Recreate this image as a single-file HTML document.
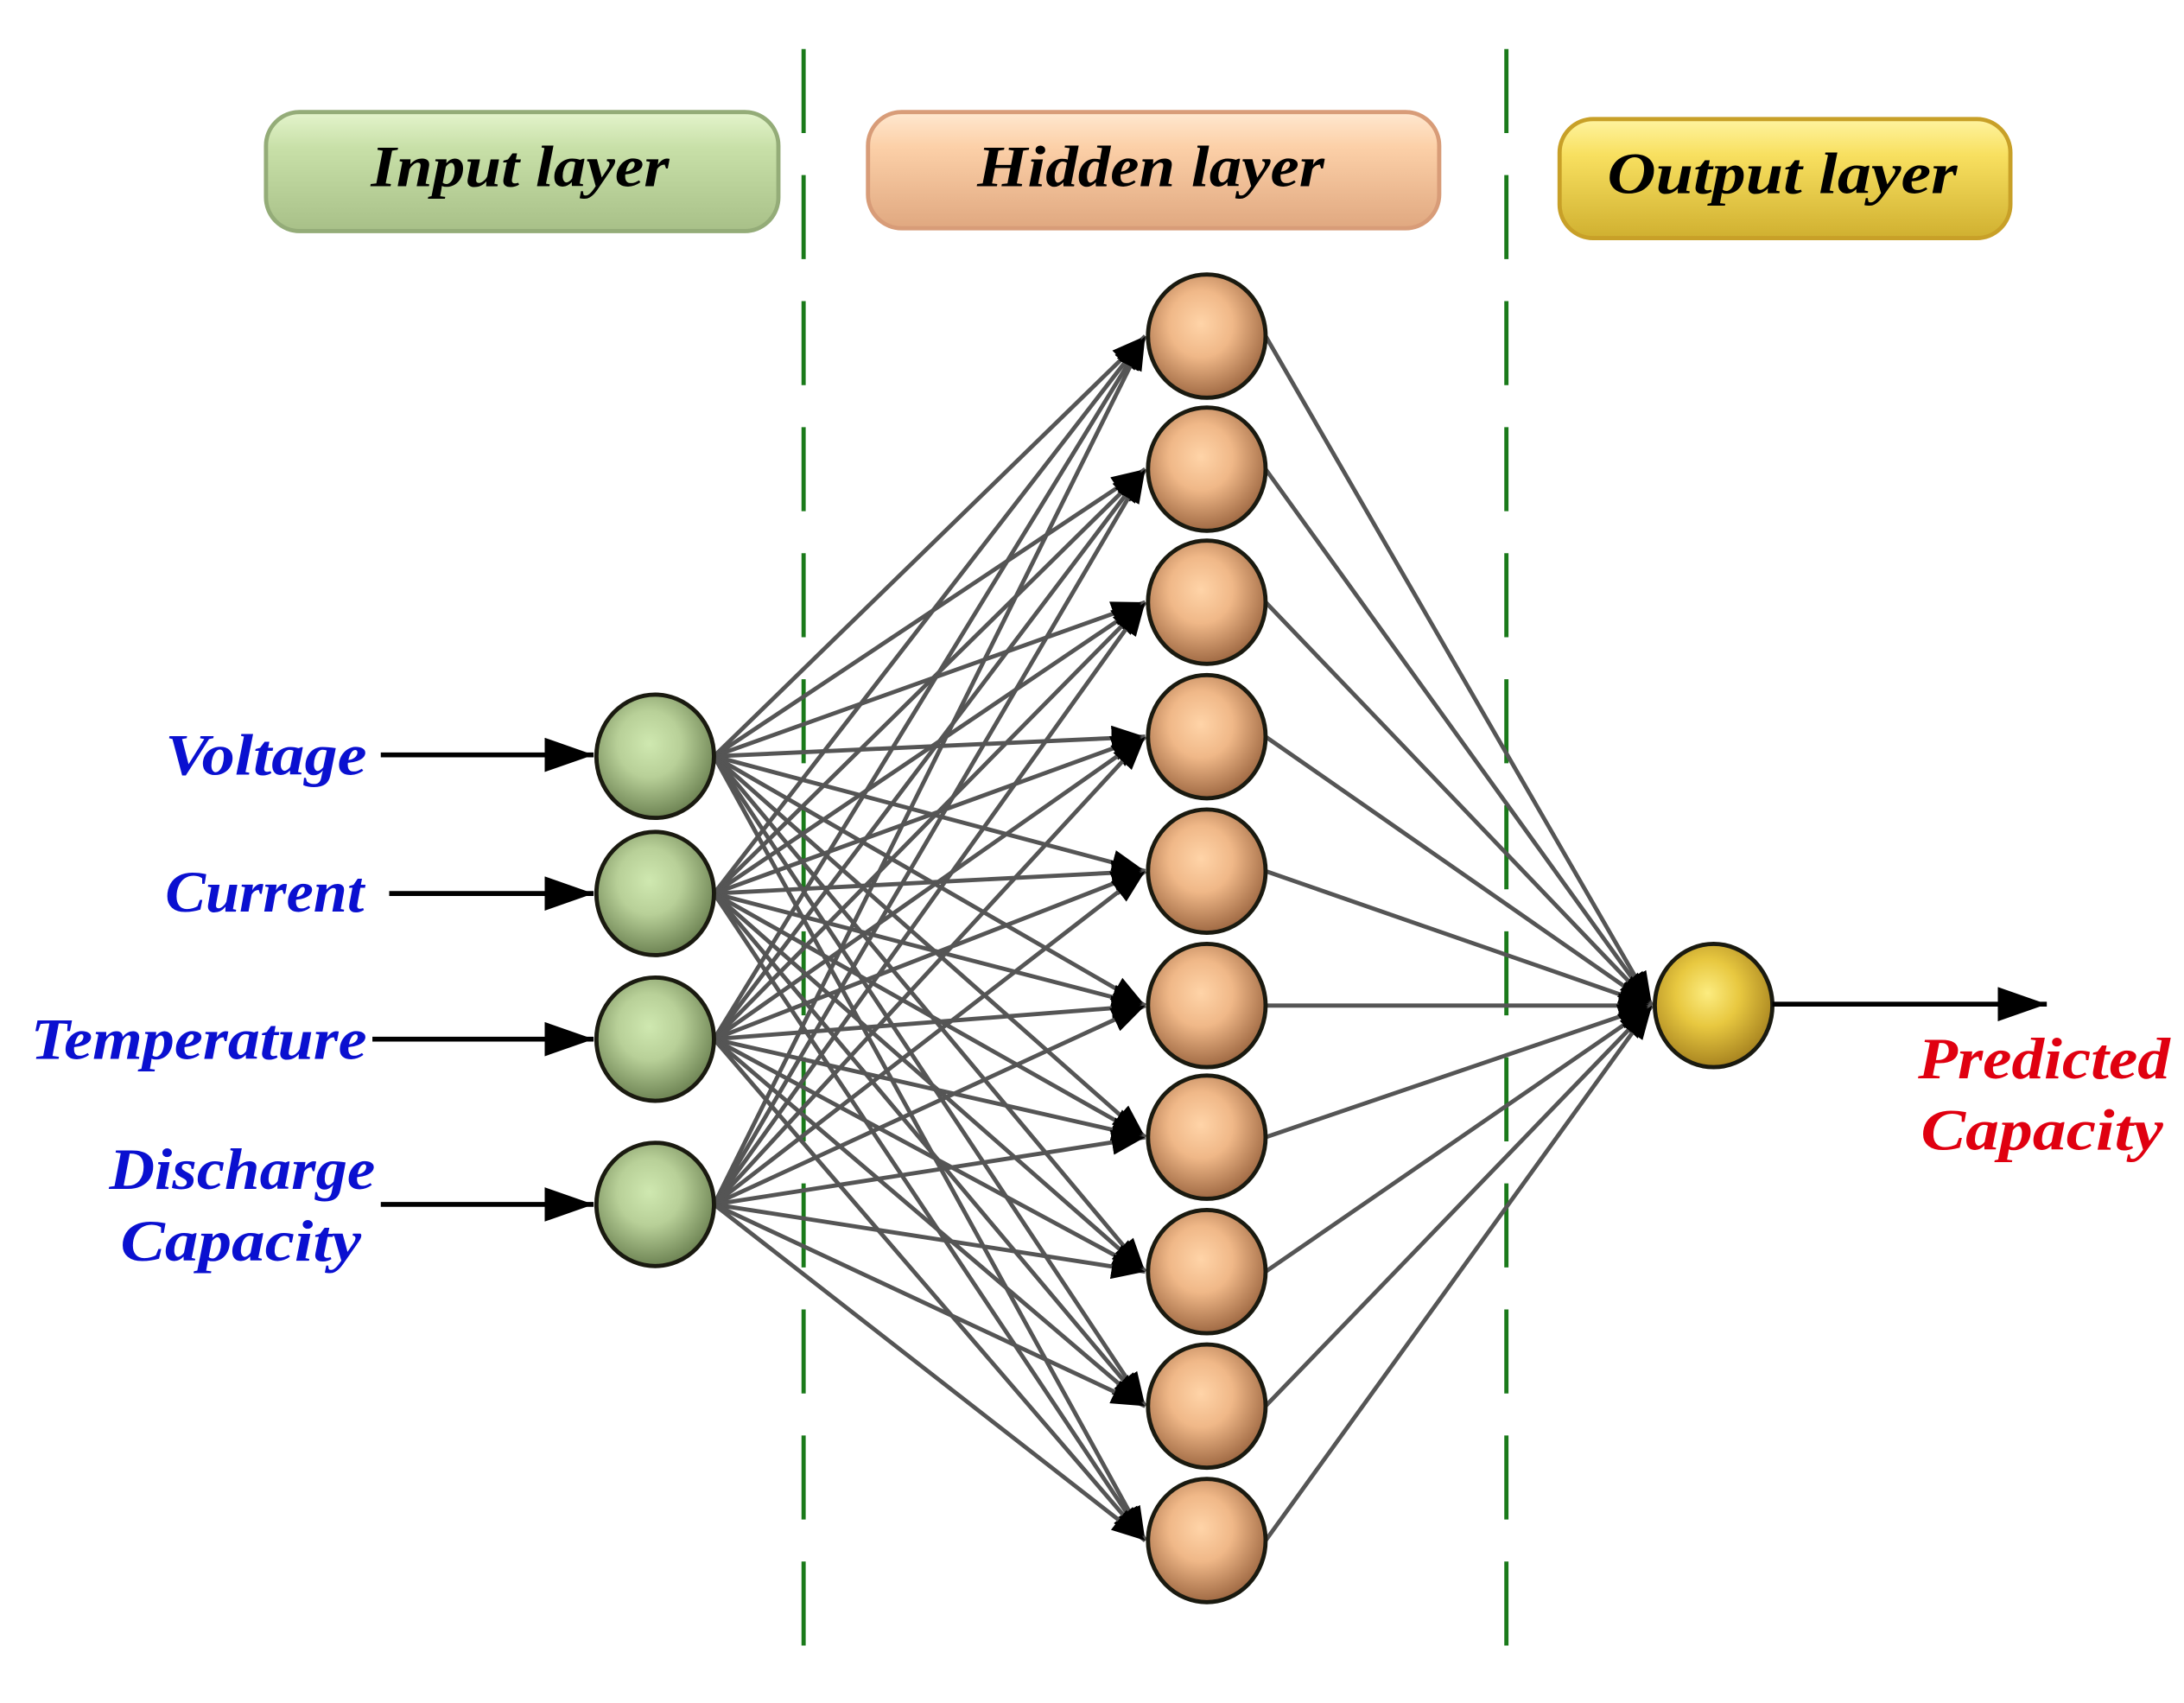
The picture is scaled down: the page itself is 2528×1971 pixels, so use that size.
<!DOCTYPE html>
<html><head><meta charset="utf-8"><style>
html,body{margin:0;padding:0;background:#fff;}
svg{display:block;}
text{font-family:"Liberation Serif",serif;font-style:italic;font-weight:bold;}
</style></head><body>
<svg id="s" width="2528" height="1971" viewBox="0 0 1560 1216" preserveAspectRatio="none" xmlns="http://www.w3.org/2000/svg">
<defs>
<radialGradient id="gG" cx="0.45" cy="0.4" r="0.6"><stop offset="0" stop-color="#cfe8b0"/><stop offset="0.45" stop-color="#b8d098"/><stop offset="1" stop-color="#6e8454"/></radialGradient>
<radialGradient id="gH" cx="0.45" cy="0.4" r="0.6"><stop offset="0" stop-color="#ffd4a8"/><stop offset="0.45" stop-color="#f0b888"/><stop offset="1" stop-color="#a06a44"/></radialGradient>
<radialGradient id="gO" cx="0.45" cy="0.4" r="0.6"><stop offset="0" stop-color="#fcec80"/><stop offset="0.45" stop-color="#e8c840"/><stop offset="1" stop-color="#a88420"/></radialGradient>
<linearGradient id="bG" x1="0" y1="0" x2="0" y2="1"><stop offset="0" stop-color="#e4f4cc"/><stop offset="0.3" stop-color="#c8e0a8"/><stop offset="1" stop-color="#a8c088"/></linearGradient>
<linearGradient id="bH" x1="0" y1="0" x2="0" y2="1"><stop offset="0" stop-color="#ffe8d0"/><stop offset="0.3" stop-color="#fcd0a8"/><stop offset="1" stop-color="#e0a880"/></linearGradient>
<linearGradient id="bO" x1="0" y1="0" x2="0" y2="1"><stop offset="0" stop-color="#fff4a0"/><stop offset="0.3" stop-color="#f8e060"/><stop offset="1" stop-color="#d0b030"/></linearGradient>
<marker id="ag" markerWidth="8" markerHeight="6" refX="8" refY="3" orient="auto" markerUnits="strokeWidth"><path d="M0,0 L8,3 L0,6 z" fill="#000"/></marker>
<marker id="ab" markerWidth="10" markerHeight="7" refX="10" refY="3.5" orient="auto" markerUnits="strokeWidth"><path d="M0,0 L10,3.5 L0,7 z" fill="#000"/></marker>
</defs>
<g stroke="#1a7a1a" stroke-width="3" stroke-dasharray="60,30">
<line x1="574" y1="35" x2="574" y2="1205"/>
<line x1="1076" y1="35" x2="1076" y2="1205"/>
</g>
<rect x="190" y="80" width="366" height="85" rx="24" fill="url(#bG)" stroke="#94ac78" stroke-width="3"/>
<rect x="620" y="80" width="408" height="83" rx="24" fill="url(#bH)" stroke="#d89c78" stroke-width="3"/>
<rect x="1114" y="85" width="322" height="85" rx="24" fill="url(#bO)" stroke="#c8a028" stroke-width="3"/>
<text x="265" y="133" font-size="42" textLength="213" lengthAdjust="spacingAndGlyphs" fill="#000">Input layer</text>
<text x="698" y="133" font-size="42" textLength="248" lengthAdjust="spacingAndGlyphs" fill="#000">Hidden layer</text>
<text x="1148" y="138" font-size="42" textLength="250" lengthAdjust="spacingAndGlyphs" fill="#000">Output layer</text>
<g id="lines" stroke="#555" stroke-width="3" fill="none"></g>
<g id="nodes"></g>
<g stroke="#000" stroke-width="3.5">
<line x1="272" y1="539" x2="424" y2="539" marker-end="url(#ab)"/>
<line x1="278" y1="638" x2="424" y2="638" marker-end="url(#ab)"/>
<line x1="266" y1="742" x2="424" y2="742" marker-end="url(#ab)"/>
<line x1="272" y1="860" x2="424" y2="860" marker-end="url(#ab)"/>
<line x1="1266" y1="717" x2="1462" y2="717" marker-end="url(#ab)"/>
</g>
<g fill="#0a10d0" font-size="42">
<text x="118" y="553" textLength="144" lengthAdjust="spacingAndGlyphs">Voltage</text>
<text x="118" y="651" textLength="142" lengthAdjust="spacingAndGlyphs">Current</text>
<text x="22" y="756" textLength="240" lengthAdjust="spacingAndGlyphs">Temperature</text>
<text x="78" y="849" textLength="190" lengthAdjust="spacingAndGlyphs">Discharge</text>
<text x="86" y="900" textLength="172" lengthAdjust="spacingAndGlyphs">Capacity</text>
</g>
<g fill="#e00010" font-size="42">
<text x="1370" y="770" textLength="180" lengthAdjust="spacingAndGlyphs">Predicted</text>
<text x="1372" y="821" textLength="173" lengthAdjust="spacingAndGlyphs">Capacity</text>
</g>
</svg>
<script>
var NS="http://www.w3.org/2000/svg";
var L=document.getElementById("lines"),N=document.getElementById("nodes");
var inp=[540,638,742,860],hid=[240,335,430,526,622,718,812,908,1004,1100];
function ln(x1,y1,x2,y2,m){var e=document.createElementNS(NS,"line");e.setAttribute("x1",x1);e.setAttribute("y1",y1);e.setAttribute("x2",x2);e.setAttribute("y2",y2);e.setAttribute("marker-end","url(#"+m+")");L.appendChild(e);}
inp.forEach(function(a){hid.forEach(function(b){ln(510,a,818,b,"ag");});});
hid.forEach(function(b){ln(904,b,1180,718,"ag");});
function nd(x,y,g){var e=document.createElementNS(NS,"ellipse");e.setAttribute("cx",x);e.setAttribute("cy",y);e.setAttribute("rx",42);e.setAttribute("ry",44);e.setAttribute("fill","url(#"+g+")");e.setAttribute("stroke","#1a1a10");e.setAttribute("stroke-width","3");N.appendChild(e);}
inp.forEach(function(a){nd(468,a,"gG");});
hid.forEach(function(b){nd(862,b,"gH");});
nd(1224,718,"gO");
</script>
</body></html>
